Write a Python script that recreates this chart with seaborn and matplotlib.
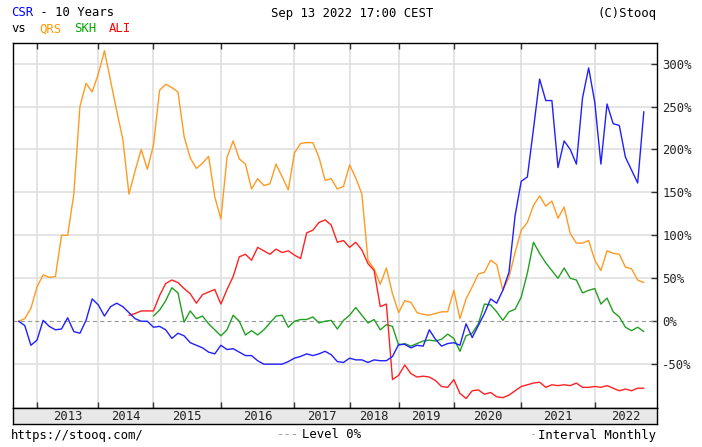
import pandas as pd
import matplotlib
matplotlib.use("Agg")
import matplotlib.pyplot as plt
import seaborn as sns

# ---- percent change since start, one value per monthly bar ----
csr = [0, -5, -28, -22, 1, -6, -10, -9, 4, -12, -14, 1, 26, 19, 6, 17, 21, 17, 10, 3,
       0, 0, -7, -6, -10, -20, -14, -17, -25, -28, -31, -36, -38, -28, -33, -32, -36, -40, -40, -46,
       -50, -50, -50, -50, -47, -43, -41, -38, -40, -38, -35, -39, -47, -48, -43, -45, -45, -48, -45, -46,
       -46, -41, -27, -27, -31, -28, -29, -10, -21, -29, -26, -25, -28, -3, -19, -5, 9, 26, 21, 36,
       57, 123, 163, 168, 224, 282, 257, 257, 179, 210, 200, 183, 260, 295, 255, 183, 253, 230, 228, 191,
       176, 161, 244]
qrs = [0, 3, 15, 40, 54, 51, 52, 100, 100, 148, 250, 277, 267, 288, 315, 280, 245, 212, 148, 175,
       200, 177, 205, 269, 276, 272, 267, 215, 190, 178, 184, 192, 145, 119, 191, 210, 189, 183, 154, 166,
       158, 160, 183, 168, 153, 196, 207, 208, 208, 191, 164, 166, 154, 157, 182, 167, 148, 71, 61, 43,
       62, 32, 10, 24, 22, 10, 8, 7, 9, 11, 11, 36, 3, 26, 40, 55, 57, 71, 66, 36,
       51, 80, 106, 115, 135, 146, 134, 140, 120, 133, 102, 91, 91, 94, 71, 59, 82, 79, 78, 63,
       61, 48, 45]
skh = [None] * 22 + [
       6, 13, 24, 39, 33, -1, 12, 3, 6, -3, -10, -17, -10, 7, 0, -16, -11, -16,
       -10, -2, 6, 7, -7, 0, 2, 2, 5, -2, 0, 1, -9, 1, 7, 16, 7, -2, 2, -10,
       -4, -6, -28, -26, -29, -26, -23, -22, -23, -21, -15, -20, -35, -17, -14, -3, 20, 19, 11, 1,
       11, 14, 28, 56, 92, 79, 68, 59, 50, 62, 50, 48, 33, 36, 38, 20, 27, 11, 5, -7,
       -11, -7, -12]
ali = [None] * 18 + [
       7, 9, 12, 12, 12, 30, 44, 48, 45, 38, 32, 21, 31, 34, 37, 20, 37, 52, 75, 78, 71, 86,
       82, 78, 84, 80, 82, 77, 73, 103, 106, 115, 118, 112, 92, 94, 86, 92, 83, 67, 59, 17,
       20, -68, -63, -51, -61, -65, -64, -65, -69, -76, -77, -68, -84, -90, -81, -80, -85, -83, -88, -89,
       -86, -81, -76, -74, -72, -71, -77, -74, -75, -74, -75, -72, -77, -77, -76, -77, -75, -78, -81, -79,
       -81, -78, -78]

years = ["2013", "2014", "2015", "2016", "2017", "2018", "2019", "2020", "2021", "2022"]
year_start = [3, 13, 22, 33, 45, 54, 62, 71, 82, 94]   # first bar of each year
y_ticks = [-50, 0, 50, 100, 150, 200, 250, 300]

colors = {"QRS": "#ff9a22", "SKH": "#22a022", "ALI": "#ff2222", "CSR": "#2020ff"}

df = pd.DataFrame({"bar": range(len(csr)), "QRS": qrs, "SKH": skh, "ALI": ali, "CSR": csr})
long_df = df.melt(id_vars="bar", var_name="ticker", value_name="pct").dropna()

sns.set_style("white")
plt.rcParams["font.family"] = ["DejaVu Sans Mono"]
plt.rcParams["lines.scale_dashes"] = False

W, H = 702, 447
fig = plt.figure(figsize=(W / 100, H / 100), dpi=100)
fig.patch.set_facecolor("white")

# plot box in pixels
left_px, right_px, top_px, bot_px, band_px = 12.5, 656.5, 42.5, 408.3, 424.3
ax = fig.add_axes([left_px / W, 1 - bot_px / H, (right_px - left_px) / W, (bot_px - top_px) / H])

# grid
for v in y_ticks:
    if v != 0:
        ax.axhline(v, color="#dddddd", lw=1.1, zorder=0)
for b in year_start:
    ax.axvline(b, color="#dddddd", lw=1.1, zorder=0)
ax.axhline(0, color="#999999", lw=0.8, ls=(0, (3, 2.2)), zorder=1)

for name in ["QRS", "SKH", "ALI", "CSR"]:
    sns.lineplot(data=long_df[long_df["ticker"] == name], x="bar", y="pct",
                 color=colors[name], lw=1.0, errorbar=None, ax=ax, zorder=3)

ax.set_xlim(-1.0, 104.07)
ax.set_ylim(-101.4, 324.6)
ax.set_xlabel("")
ax.set_ylabel("")

ax.set_xticks(year_start)
ax.tick_params(axis="x", direction="in", length=4, width=1, color="#333333",
               top=True, bottom=True, labelbottom=False)
ax.yaxis.tick_right()
ax.set_yticks(y_ticks)
ax.set_yticklabels([f"{v}%" for v in y_ticks])
ax.tick_params(axis="y", direction="in", length=4, width=1, color="#333333",
               right=True, left=False, labelright=True, labelleft=False,
               labelsize=8.8, pad=4)
for s in ax.spines.values():
    s.set_color("black")
    s.set_linewidth(1.0)

# year band under the plot
band = fig.add_axes([left_px / W, 1 - band_px / H, (right_px - left_px) / W, (band_px - bot_px) / H])
band.set_facecolor("#e8e8e8")
band.set_xlim(ax.get_xlim())
band.set_xticks([])
band.set_yticks([])
for s in band.spines.values():
    s.set_color("black")
    s.set_linewidth(1.0)
edges = year_start + [ax.get_xlim()[1]]
for i, yr in enumerate(years):
    band.text((edges[i] + edges[i + 1]) / 2, 0.48, yr, ha="center", va="center",
              fontsize=8.8, color="#222222", transform=band.get_xaxis_transform())


def px_text(x, y, s, color="black", ha="left", size=8.8):
    fig.text(x / W, 1 - y / H, s, color=color, ha=ha, va="center", fontsize=size)


# header
px_text(11, 13, "CSR", color="#0000ff")
px_text(33, 13, " - 10 Years")
px_text(352, 13, "Sep 13 2022 17:00 CEST", ha="center")
px_text(656, 13, "(C)Stooq", ha="right")
px_text(11, 29, "vs")
px_text(39, 29, "QRS", color="#ff9900")
px_text(74, 29, "SKH", color="#00aa00")
px_text(109, 29, "ALI", color="#ff0000")

# footer
px_text(11, 435, "https://stooq.com/")
px_text(277, 435, "---", color="#999999")
px_text(302, 435, "Level 0%")
px_text(533.5, 435, "-", color="#888888", ha="center", size=6)
px_text(656, 435, "Interval Monthly", ha="right")

fig.savefig("out.png", dpi=100, facecolor="white")
